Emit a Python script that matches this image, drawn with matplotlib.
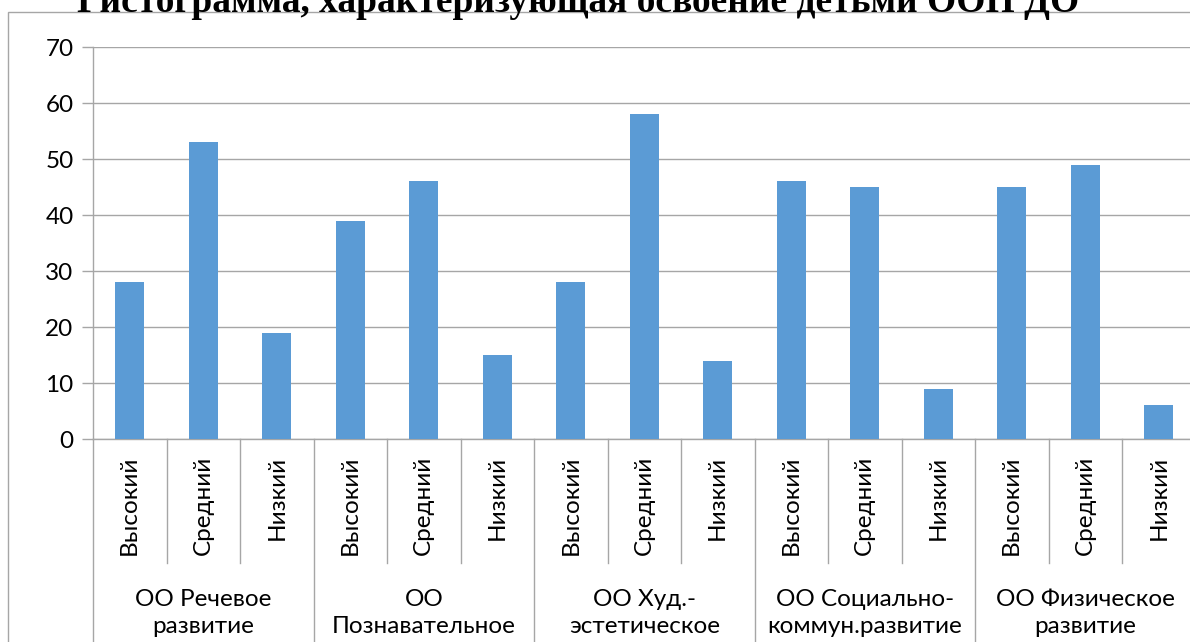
import matplotlib
matplotlib.use('Agg')
import matplotlib.pyplot as plt
from matplotlib.patches import Rectangle
import matplotlib.transforms as mtransforms

# data
groups = ['ОО Речевое\nразвитие', 'ОО\nПознавательное', 'ОО Худ.-\nэстетическое',
          'ОО Социально-\nкоммун.развитие', 'ОО Физическое\nразвитие']
levels = ['Высокий', 'Средний', 'Низкий']
values = [28, 53, 19,
          39, 46, 15,
          28, 58, 14,
          46, 45, 9,
          45, 49, 6]
title = 'Гистограмма, характеризующая освоение детьми ООП ДО'

plt.rcParams['font.family'] = ['Lato', 'DejaVu Sans']
grey = '#A6A6A6'
W, H = 1190, 642
fs = 17.5

fig = plt.figure(figsize=(W / 100, H / 100), dpi=100)
ax = fig.add_axes([93 / W, 1 - 439 / H, 1102.5 / W, 392 / H])

x = list(range(len(values)))
ax.bar(x, values, width=0.4, color='#5B9BD5', zorder=3)
ax.set_xlim(-0.5, len(values) - 0.5)
ax.set_ylim(0, 70)
ax.set_yticks(range(0, 71, 10))
ax.tick_params(axis='y', labelsize=fs, length=8, color=grey, pad=6, width=1)
ax.set_xticks([])
ax.grid(axis='y', color=grey, linewidth=1, zorder=0)
for s in ['top', 'right']:
    ax.spines[s].set_visible(False)
for s in ['left', 'bottom']:
    ax.spines[s].set_color(grey)
    ax.spines[s].set_linewidth(1)

# multi-level category axis
trans = mtransforms.blended_transform_factory(ax.transData, ax.transAxes)
px = 1 / 392
for i in range(len(values) + 1):
    bottom = -1.0 if i % 3 == 0 else -124 * px
    ax.plot([i - 0.5, i - 0.5], [0, bottom], transform=trans, color=grey,
            linewidth=1, clip_on=False)
for i in x:
    ax.text(i, -17 * px, levels[i % 3], transform=trans, rotation=90,
            ha='center', va='top', fontsize=fs)
for g, name in enumerate(groups):
    ax.text(3 * g + 1, -150 * px, name, transform=trans, ha='center',
            va='top', fontsize=fs, linespacing=1.35)

# chart border and title
fig.patches.append(Rectangle((8 / W, -0.1), 1.2, 1.1 - 12 / H,
                             transform=fig.transFigure, fill=False,
                             edgecolor=grey, linewidth=1))
fig.text(578 / W, 1 - 12 / H, title, ha='center', va='baseline',
         fontsize=27, fontweight='bold', family='Liberation Serif')

plt.savefig('out.png', dpi=100)
